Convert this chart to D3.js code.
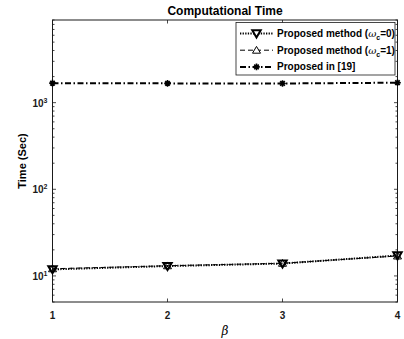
<!DOCTYPE html>
<html>
<head>
<meta charset="utf-8">
<script src="https://cdn.jsdelivr.net/npm/d3@7"></script>
<style>
  html, body { margin: 0; padding: 0; background: #fff; }
  svg { display: block; font-family: "Liberation Sans", Arial, sans-serif; }
</style>
</head>
<body>
<svg id="chart" width="404" height="339"></svg>
<script>
// Computation time versus beta, log scale
const betas = [1, 2, 3, 4];
const timeOmega0 = [11.9, 13.0, 13.9, 17.2];
const timeOmega1 = [12.1, 13.1, 14.0, 17.0];
const timeRef19 = [1680, 1670, 1665, 1700];
const yTickValues = [10, 100, 1000];
const yTickExponents = ["1", "2", "3"];
const seriesNames = ["Proposed method (", "Proposed method (", "Proposed in [19]"];

const svg = d3.select("#chart");
const margin = { left: 52.5, right: 6.5, top: 20, bottom: 37 };
const W = 404, H = 339;
const x = d3.scaleLinear().domain([1, 4]).range([margin.left, W - margin.right]);
const y = d3.scaleLog().domain([5, 9000]).range([H - margin.bottom, margin.top]);

const axisColor = "#1a1a1a";

// Frame
svg.append("rect")
  .attr("x", x.range()[0]).attr("y", y.range()[1])
  .attr("width", x.range()[1] - x.range()[0])
  .attr("height", y.range()[0] - y.range()[1])
  .attr("fill", "none").attr("stroke", axisColor).attr("stroke-width", 1);

// Tick marks (inward, mirrored)
const minorTicks = [];
for (let e = 0; e <= 3; e++) for (let m = 2; m <= 9; m++) {
  const v = m * Math.pow(10, e);
  if (v >= 5 && v <= 9000) minorTicks.push(v);
}
const tickG = svg.append("g").attr("stroke", axisColor).attr("stroke-width", 0.8);
const [xl, xr] = x.range();
const [yb, yt] = y.range();
yTickValues.forEach(v => {
  tickG.append("line").attr("x1", xl).attr("x2", xl + 3.5).attr("y1", y(v)).attr("y2", y(v));
  tickG.append("line").attr("x1", xr).attr("x2", xr - 3.5).attr("y1", y(v)).attr("y2", y(v));
});
minorTicks.forEach(v => {
  tickG.append("line").attr("x1", xl).attr("x2", xl + 2).attr("y1", y(v)).attr("y2", y(v));
  tickG.append("line").attr("x1", xr).attr("x2", xr - 2).attr("y1", y(v)).attr("y2", y(v));
});
betas.forEach(b => {
  tickG.append("line").attr("x1", x(b)).attr("x2", x(b)).attr("y1", yb).attr("y2", yb - 3.5);
  tickG.append("line").attr("x1", x(b)).attr("x2", x(b)).attr("y1", yt).attr("y2", yt + 3.5);
});

// Tick labels
svg.append("g").selectAll("text").data(betas).join("text")
  .attr("x", d => x(d)).attr("y", yb + 17)
  .attr("text-anchor", "middle").attr("font-size", 10).attr("font-weight", "bold")
  .attr("fill", axisColor).text(d => d);

yTickValues.forEach((v, i) => {
  const t = svg.append("text")
    .attr("x", xl - 5).attr("y", y(v) + 4)
    .attr("text-anchor", "end").attr("font-size", 10).attr("font-weight", "bold")
    .attr("fill", axisColor);
  t.append("tspan").text("10");
  t.append("tspan").attr("dy", -4).attr("font-size", 7).text(yTickExponents[i]);
});

// Axis titles
svg.append("text").attr("x", (xl + xr) / 2).attr("y", 15)
  .attr("text-anchor", "middle").attr("font-size", 12).attr("font-weight", "bold")
  .attr("fill", "#000").text("Computational Time");
svg.append("text").attr("x", (xl + xr) / 2).attr("y", 335)
  .attr("text-anchor", "middle").attr("font-size", 12).attr("font-style", "italic")
  .attr("font-family", "'DejaVu Serif', serif")
  .attr("fill", "#000").text("β");
svg.append("text")
  .attr("transform", `translate(26,${(yt + yb) / 2}) rotate(-90)`)
  .attr("text-anchor", "middle").attr("font-size", 11).attr("font-weight", "bold")
  .attr("fill", "#000").text("Time (Sec)");

// Marker paths
const triDown = s => `M${-s},${-s * 0.75}L${s},${-s * 0.75}L0,${s * 0.95}Z`;
const triUp = s => `M${-s},${s * 0.75}L${s},${s * 0.75}L0,${-s * 0.95}Z`;
const star = s => `M${-s},0L${s},0M0,${-s}L0,${s}M${-s * 0.7},${-s * 0.7}L${s * 0.7},${s * 0.7}M${-s * 0.7},${s * 0.7}L${s * 0.7},${-s * 0.7}`;

const series = [
  { vals: timeRef19, dash: "6,2.5,1.5,2.5", width: 2, marker: star, size: 3.3, mw: 1.6 },
  { vals: timeOmega1, dash: "5,3", width: 1, marker: triUp, size: 4, mw: 1 },
  { vals: timeOmega0, dash: "1.3,1.3", width: 2, marker: triDown, size: 4.2, mw: 2 }
];

const line = d3.line().x((d, i) => x(betas[i])).y(d => y(d));
const plotG = svg.append("g");
series.forEach(s => {
  plotG.append("path").datum(s.vals).attr("d", line)
    .attr("fill", "none").attr("stroke", "#000")
    .attr("stroke-width", s.width).attr("stroke-dasharray", s.dash);
  plotG.selectAll(null).data(s.vals).join("path")
    .attr("transform", (d, i) => `translate(${x(betas[i])},${y(d)})`)
    .attr("d", s.marker(s.size))
    .attr("fill", "none").attr("stroke", "#000").attr("stroke-width", s.mw);
});

// Legend
const lg = svg.append("g");
const lx0 = 236, ly0 = 22.5, lw = 159, lh = 52.5;
lg.append("rect").attr("x", lx0).attr("y", ly0).attr("width", lw).attr("height", lh)
  .attr("fill", "#fff").attr("stroke", axisColor).attr("stroke-width", 0.8);
const legendItems = [series[2], series[1], series[0]];
const subs = ["=0)", "=1)", null];
legendItems.forEach((s, i) => {
  const cy = 33.5 + i * 16.7;
  lg.append("line").attr("x1", 240).attr("x2", 273).attr("y1", cy).attr("y2", cy)
    .attr("stroke", "#000").attr("stroke-width", s.width).attr("stroke-dasharray", s.dash);
  lg.append("path").attr("transform", `translate(256.5,${cy})`).attr("d", s.marker(s.size))
    .attr("fill", "#fff").attr("stroke", "#000").attr("stroke-width", s.mw);
  const t = lg.append("text").attr("x", 277).attr("y", cy + 3.5)
    .attr("font-size", 10).attr("font-weight", "bold").attr("fill", "#000");
  t.append("tspan").text(seriesNames[i]);
  if (subs[i]) {
    t.append("tspan").attr("font-style", "italic").attr("font-family", "'DejaVu Serif', serif").attr("font-weight", "normal").text("ω");
    t.append("tspan").attr("dy", 3).attr("font-size", 7).text("c");
    t.append("tspan").attr("dy", -3).text(subs[i]);
  }
});
</script>
</body>
</html>
